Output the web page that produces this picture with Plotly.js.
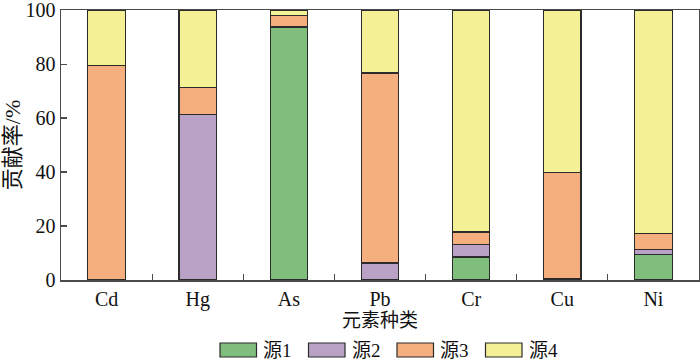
<!DOCTYPE html>
<html>
<head>
<meta charset="utf-8">
<script src="https://cdn.plot.ly/plotly-3.0.1.min.js"></script>
<style>html,body{margin:0;padding:0;background:#fff;}#chart{width:700px;height:363px;}</style>
</head>
<body>
<div id="chart"></div>
<script>
const categories = ['Cd', 'Hg', 'As', 'Pb', 'Cr', 'Cu', 'Ni'];
const seriesNames = ['源1', '源2', '源3', '源4'];
const source1 = [null, null, 93.6, null, 8.5, null, 9.4];
const source2 = [null, 61.4, 0.4, 6.3, 4.8, 0.7, 1.8];
const source3 = [79.4, 9.8, 3.9, 70.4, 4.5, 39.0, 5.9];
const source4 = [20.6, 28.8, 2.1, 23.3, 82.2, 60.3, 82.9];
const seriesValues = [source1, source2, source3, source4];
const colors = ['#80be7e', '#baa2c6', '#f5af7f', '#f4f095'];
const yTicks = [0, 20, 40, 60, 80, 100];

const FONT = '"Liberation Serif", "Times New Roman", "Noto Sans CJK SC", serif';
const AX = '#4a4a4a';

const traces = seriesValues.map((vals, i) => ({
  type: 'bar',
  name: seriesNames[i],
  x: categories,
  y: vals,
  width: 0.41,
  marker: {color: colors[i], line: {color: '#2b2b2b', width: 1.2}},
  showlegend: false,
  hoverinfo: 'x+y+name'
}));

// custom legend (boxes + labels) built from series names/colors
const L = 61, R = 699, T = 10, B = 280;
const px = v => (v - L) / (R - L);
const py = v => (B - v) / (B - T);
const shapes = [];
const annotations = [];
seriesNames.forEach((n, i) => {
  const x0 = 220 + i * 88.5;
  shapes.push({type: 'rect', xref: 'paper', yref: 'paper',
    x0: px(x0), x1: px(x0 + 36.5), y0: py(357), y1: py(343),
    fillcolor: colors[i], line: {color: '#2b2b2b', width: 1.2}});
  annotations.push({xref: 'paper', yref: 'paper', x: px(x0 + 41), y: py(350),
    xanchor: 'left', yanchor: 'middle', text: n, showarrow: false,
    font: {family: FONT, size: 19, color: '#111'}});
});

const layout = {
  width: 700, height: 363,
  margin: {l: L, r: 700 - R, t: T, b: 363 - B, pad: 0},
  paper_bgcolor: '#fff', plot_bgcolor: '#fff',
  barmode: 'stack',
  showlegend: false,
  font: {family: FONT, color: '#111'},
  xaxis: {
    type: 'category', range: [-0.5, 6.5],
    tickson: 'boundaries', ticks: 'inside', ticklen: 6, tickwidth: 1.2, tickcolor: AX,
    showline: true, linecolor: AX, linewidth: 1.5, mirror: true,
    showgrid: false, zeroline: false,
    tickfont: {family: FONT, size: 20, color: '#111'},
    title: {text: '元素种类', font: {family: FONT, size: 19, color: '#111'}, standoff: 4}
  },
  yaxis: {
    range: [0, 100.05], tickvals: yTicks, ticktext: yTicks.map(String),
    ticks: 'inside', ticklen: 6, tickwidth: 1.2, tickcolor: AX,
    showline: true, linecolor: AX, linewidth: 1.5, mirror: true,
    showgrid: false, zeroline: false, ticklabeloverflow: 'allow',
    tickfont: {family: FONT, size: 20, color: '#111'},
    title: {text: '贡献率/%', font: {family: FONT, size: 22, color: '#111'}, standoff: 1}
  },
  shapes: shapes,
  annotations: annotations
};

Plotly.newPlot('chart', traces, layout, {displayModeBar: false, staticPlot: true});
</script>
</body>
</html>
